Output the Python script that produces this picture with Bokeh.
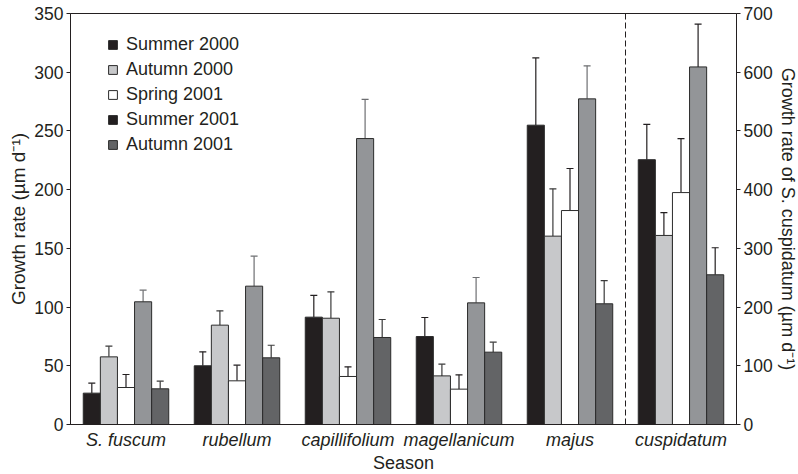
import math
from bokeh.plotting import figure
from bokeh.models import (Range1d, LinearAxis, FixedTicker, Span, Legend,
                          LegendItem)
from bokeh.embed import file_html
from bokeh.resources import INLINE

# ---------------- data ----------------
species = ["S. fuscum", "rubellum", "capillifolium", "magellanicum", "majus", "cuspidatum"]
seasons = ["Summer 2000", "Autumn 2000", "Spring 2001", "Summer 2001", "Autumn 2001"]

# growth rate (µm d-1), first five species (left axis)
summer_2000 = [26.7, 50.0, 91.4, 74.9, 254.9]
summer_2000_err = [8.5, 11.9, 18.5, 16.2, 57.3]
autumn_2000 = [57.6, 84.6, 90.5, 41.4, 160.4]
autumn_2000_err = [9.1, 12.2, 22.5, 10.0, 40.3]
spring_2001 = [31.5, 37.2, 40.9, 30.1, 182.2]
spring_2001_err = [11.1, 13.3, 8.2, 12.2, 35.8]
summer_2001 = [104.5, 117.8, 243.5, 103.6, 277.3]
summer_2001_err = [9.9, 25.5, 33.3, 21.6, 28.1]
autumn_2001 = [30.4, 56.8, 74.1, 61.6, 102.8]
autumn_2001_err = [6.5, 10.7, 15.3, 8.5, 19.8]

# S. cuspidatum (right axis), one value per season
cuspidatum_rate = [451, 322, 395, 609, 255]
cuspidatum_err = [60, 39, 92, 73, 46]

left_ticks = [0, 50, 100, 150, 200, 250, 300, 350]
right_ticks = [0, 100, 200, 300, 400, 500, 600, 700]

means = [summer_2000, autumn_2000, spring_2001, summer_2001, autumn_2001]
errs = [summer_2000_err, autumn_2000_err, spring_2001_err, summer_2001_err, autumn_2001_err]

# ---------------- style ----------------
INK = "#231f20"
bar_colors = ["#231f20", "#c7c8ca", "#ffffff", "#939598", "#636466"]
legend_colors = ["#231f20", "#c7c8ca", "#ffffff", "#231f20", "#636466"]
err_colors = ["#231f20", "#3a3a3a", "#231f20", "#6d6e71", "#3a3a3a"]
FONT = "Liberation Sans"
BW = 0.154

p = figure(frame_width=666, frame_height=411,
           x_range=Range1d(-0.5, 5.5), y_range=Range1d(0, 350),
           output_backend="svg", toolbar_location=None,
           min_border_left=70, min_border_right=62,
           min_border_top=13, min_border_bottom=50)
p.extra_y_ranges = {"right": Range1d(0, 700)}
p.xgrid.visible = False
p.ygrid.visible = False
p.outline_line_color = INK
p.outline_line_width = 1
p.background_fill_color = "white"
p.border_fill_color = "white"

# bars, left axis species
for k in range(5):
    xs = [i + (k - 2) * BW for i in range(5)]
    tops = [m + e for m, e in zip(means[k], errs[k])]
    p.segment(x0=xs, y0=means[k], x1=xs, y1=tops, line_color=err_colors[k], line_width=1.2)
    p.scatter(x=xs, y=tops, marker="dash", size=7, line_color=err_colors[k], line_width=1.2)
for k in range(5):
    xs = [i + (k - 2) * BW for i in range(5)]
    p.vbar(x=xs, top=means[k], bottom=0, width=BW,
           fill_color=bar_colors[k], line_color="#2b2b2b", line_width=1)

# S. cuspidatum, right axis
cx = [5 + (k - 2) * BW for k in range(5)]
ctops = [m + e for m, e in zip(cuspidatum_rate, cuspidatum_err)]
p.segment(x0=cx, y0=cuspidatum_rate, x1=cx, y1=ctops, line_color=err_colors[0],
          line_width=1.2, y_range_name="right")
p.scatter(x=cx, y=ctops, marker="dash", size=7, line_color=err_colors[0],
          line_width=1.2, y_range_name="right")
p.vbar(x=cx, top=cuspidatum_rate, bottom=0, width=BW, fill_color=bar_colors,
       line_color="#2b2b2b", line_width=1, y_range_name="right")

# dashed separator
p.add_layout(Span(location=4.5, dimension="height", line_dash="6 3",
                  line_color=INK, line_width=1))

# axes
xa = p.xaxis[0]
xa.ticker = FixedTicker(ticks=list(range(6)))
xa.major_label_overrides = {i: s for i, s in enumerate(species)}
xa.major_label_text_font = FONT
xa.major_label_text_font_style = "italic"
xa.major_label_text_font_size = "18px"
xa.major_label_text_color = INK
xa.major_tick_out = 0
xa.major_tick_in = 0
xa.minor_tick_out = 0
xa.minor_tick_in = 0
xa.major_label_standoff = 5
xa.axis_label = "Season"
xa.axis_label_text_font = FONT
xa.axis_label_text_font_style = "normal"
xa.axis_label_text_font_size = "18px"
xa.axis_label_text_color = INK
xa.axis_label_standoff = 0
xa.axis_line_color = INK

ya = p.yaxis[0]
ya.ticker = FixedTicker(ticks=left_ticks)
ya.axis_label = "Growth rate (µm d⁻¹)"
ya.axis_label_text_font_size = "19px"
ya.axis_label_standoff = 2

ra = LinearAxis(y_range_name="right", ticker=FixedTicker(ticks=right_ticks))
ra.axis_label = "Growth rate of S. cuspidatum (µm d⁻¹)"
ra.axis_label_text_font_size = "18px"
ra.axis_label_standoff = 2
p.add_layout(ra, "right")

for ax in (ya, ra):
    ax.axis_label_text_font = FONT
    ax.axis_label_text_font_style = "normal"
    ax.axis_label_text_color = INK
    ax.major_label_text_font = FONT
    ax.major_label_text_font_size = "17.5px"
    ax.major_label_text_color = INK
    ax.major_tick_out = 4
    ax.major_tick_in = 0
    ax.minor_tick_out = 0
    ax.minor_tick_in = 0
    ax.major_tick_line_color = INK
    ax.axis_line_color = INK
    ax.major_label_standoff = 3

# legend (Summer 2001 swatch drawn black, as in the source figure)
legend_renderers = []
for k in range(5):
    r = p.vbar(x=[0], top=[1], width=BW, fill_color=legend_colors[k],
               line_color="#2b2b2b", line_width=1, visible=False)
    legend_renderers.append(r)
legend = Legend(items=[LegendItem(label=seasons[k], renderers=[legend_renderers[k]])
                       for k in range(5)],
                location=(37, 269), padding=0, margin=0, spacing=4,
                label_height=21, glyph_height=11, glyph_width=11, label_standoff=8,
                label_text_font=FONT, label_text_font_size="18px", label_text_color=INK,
                border_line_color=None, background_fill_alpha=0, click_policy="none")
p.add_layout(legend)

open("out.html", "w").write(file_html(p, INLINE))
